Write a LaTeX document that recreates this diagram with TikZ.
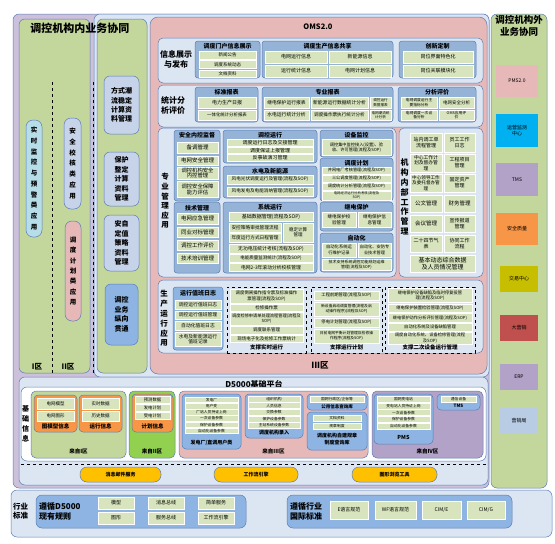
\documentclass[tikz,border=0pt]{standalone}
\usepackage{fontspec}
\setmainfont{Noto Sans CJK SC}
\newcommand\fsz[2]{\fontsize{#1}{#2}\selectfont}
\definecolor{bd}{HTML}{5B7DB5}
\definecolor{lav}{HTML}{CCC0DA}
\definecolor{grn}{HTML}{C3D69B}
\definecolor{lgrn}{HTML}{D7E4BD}
\definecolor{rowbg}{HTML}{DCE6F2}
\definecolor{grpb}{HTML}{95B3D7}
\definecolor{dkb}{HTML}{8DB4E2}
\definecolor{steel}{HTML}{C6D3E8}
\definecolor{cyanl}{HTML}{B7DEE8}
\definecolor{pinkc}{HTML}{E6B9B8}
\definecolor{orng}{HTML}{F79646}
\definecolor{brgrn}{HTML}{92D050}
\definecolor{purp}{HTML}{B3A2C7}
\definecolor{pillc}{HTML}{FFC000}
\definecolor{cyanb}{HTML}{00B0F0}
\definecolor{olive}{HTML}{C8BE00}
\definecolor{redc}{HTML}{C0504D}
\definecolor{lstl}{HTML}{B8CCE4}
% \B[opts]{style}{x1}{y1}{x2}{y2}{name}{text}
\newcommand\B[8][]{\node[#2,anchor=north west,minimum width={(#5-#3)*1pt},minimum height={(#6-#4)*1pt},#1] (#7) at (#3,#4) {#8};}
% \I[font]{x1}{y1}{x2}{y2}{name}{text}
\newcommand\I[7][\fsz{4.5}{5.2}]{\B[font=#1]{it}{#2}{#3}{#4}{#5}{#6}{#7}}
\begin{document}
\begin{tikzpicture}[x=1pt,y=-1pt,
  bs/.style={draw=bd,line width=0.5pt,inner sep=0pt,outer sep=0pt,align=center},
  it/.style={bs,fill=lgrn,draw=white,line width=0.3pt},
  grp/.style={bs,fill=grpb,rounded corners=3pt},
  rowb/.style={bs,fill=rowbg,rounded corners=5pt},
  dsh/.style={draw=black,dashed,line width=0.6pt,fill=rowbg,inner sep=0pt,outer sep=0pt},
  ttl/.style={inner sep=0pt,align=center,font=\bfseries\fsz{6}{7}},
  vt/.style={inner sep=0pt,align=center,font=\bfseries\fsz{7.5}{9.6}},
  sep/.style={dashed,line width=0.8pt,draw=black}]
\useasboundingbox (0,0) rectangle (555,544);

% ---------- backgrounds ----------
\B[fill=lav,rounded corners=6pt]{bs}{13}{14}{489}{488}{purbg}{}
\B[fill=rowbg,rounded corners=6pt]{bs}{94}{14}{489}{377}{bluebg}{}
\B[fill=grn,rounded corners=6pt]{bs}{19}{19}{90}{373}{lgreen}{}
\coordinate (s1a) at (52,82); \coordinate (s1b) at (52,373);
\coordinate (s2a) at (93,82); \coordinate (s2b) at (93,373);
\draw[sep] (s1a) -- (s1b);

% left pills
\B[fill=cyanl,rounded corners=7pt,font=\bfseries\fsz{6.5}{10.7}]{bs}{26}{120}{42}{237}{p1}{实\\时\\监\\控\\与\\预\\警\\类\\应\\用}
\B[fill=steel,rounded corners=7pt,font=\bfseries\fsz{6.5}{10.7}]{bs}{64}{118}{81}{209}{p2}{安\\全\\校\\核\\类\\应\\用}
\B[fill=pinkc,rounded corners=7pt,font=\bfseries\fsz{6.5}{10.4}]{bs}{65}{221}{81}{321}{p3}{调\\度\\计\\划\\类\\应\\用}
\node[font=\bfseries\fsz{7.5}{8}] (z1) at (37,367) {I区};
\node[font=\bfseries\fsz{7.5}{8}] (z2) at (68,367) {II区};

% green column
\B[fill=grn,rounded corners=6pt]{bs}{97}{19}{147}{373}{gcol}{}
\B[fill=steel,rounded corners=6pt,font=\bfseries\fsz{7}{9.3}]{bs}{104}{76}{139}{134}{g1}{方式潮\\流稳定\\计算资\\料管理}
\B[fill=steel,rounded corners=6pt,font=\bfseries\fsz{7}{9.5}]{bs}{104}{152}{139}{206}{g2}{保护\\整定\\计算\\资料\\管理}
\B[fill=steel,rounded corners=6pt,font=\bfseries\fsz{7}{9.5}]{bs}{104}{215}{139}{271}{g3}{安自\\定值\\策略\\资料\\管理}
\B[fill=dkb,rounded corners=6pt,font=\bfseries\fsz{7}{9.5}]{bs}{105}{284}{138}{345}{g4}{调控\\业务\\纵向\\贯通}
\draw[sep] (s2a) -- (s2b);

% ---------- OMS2.0 ----------
\B[fill=pinkc,rounded corners=8pt]{bs}{150}{17}{487}{374}{oms}{}
\node[ttl,font=\bfseries\fsz{7.5}{8}] (omst) at (318,27) {OMS2.0};

% row 1
\B{rowb}{158}{38}{483}{83}{r1}{}
\node[vt,font=\bfseries\fsz{8}{10}] (r1t) at (176,59) {信息展示\\与发布};
\B{grp}{195}{41}{260}{78}{g11}{}
\node[ttl] (g11t) at (227.5,45.8) {调度门户信息展示};
\I{199}{51}{256}{59}{i111}{新闻公告}
\I{199}{60.5}{256}{68.5}{i112}{调度系统动态}
\I{199}{70}{256}{77}{i113}{文档资料}
\B{grp}{262}{41}{393}{78}{g12}{}
\node[ttl] (g12t) at (327.5,45.8) {调度生产信息共享};
\I[\fsz{5}{6}]{265}{51}{327}{63}{i121}{电网运行信息}
\I[\fsz{5}{6}]{329}{51}{391}{63}{i122}{新能源信息}
\I[\fsz{5}{6}]{265}{65}{327}{77}{i123}{运行统计信息}
\I[\fsz{5}{6}]{329}{65}{391}{77}{i124}{电网计划信息}
\B{grp}{399}{41}{476}{78}{g13}{}
\node[ttl] (g13t) at (437.5,45.8) {创新定制};
\I[\fsz{5}{6}]{403}{51}{473}{63}{i131}{岗位界面特色化}
\I[\fsz{5}{6}]{403}{65}{473}{77}{i132}{岗位关联模块化}

% row 2
\B{rowb}{158}{85}{483}{127}{r2}{}
\node[vt,font=\bfseries\fsz{8}{10}] (r2t) at (173,105) {统计分\\析评价};
\B{grp}{195}{87}{258}{122}{g21}{}
\node[ttl] (g21t) at (226.5,92) {标准报表};
\I[\fsz{5}{6}]{198}{97}{256}{108}{i211}{电力生产日报}
\I[\fsz{4.4}{5}]{198}{110}{256}{120}{i212}{一体化统计分析报表}
\B{grp}{262}{87}{393}{122}{g22}{}
\node[ttl] (g22t) at (327.5,92) {专业报表};
\I[\fsz{4.8}{5.5}]{264}{97}{309}{108}{i221}{继电保护运行报表}
\I[\fsz{4.8}{5.5}]{311}{97}{368}{108}{i222}{新能源运行数据统计分析}
\I[\fsz{3.6}{4.4}]{370}{97}{391}{108}{i223}{调控运行\\数据报表}
\I[\fsz{4.8}{5.5}]{264}{110}{309}{120}{i224}{水电运行统计分析}
\I[\fsz{4.6}{5.5}]{311}{110}{368}{120}{i225}{调度操作票执行统计分析}
\I[\fsz{3.6}{4.4}]{370}{110}{391}{120}{i226}{电网潮流统\\计分析}
\B{grp}{398}{87}{476}{122}{g23}{}
\node[ttl] (g23t) at (437,92) {分析评价};
\I[\fsz{3.8}{4.5}]{401}{97}{437}{108}{i231}{电网调度运行主\\要指标分析}
\I[\fsz{4.5}{5}]{439}{97}{474}{108}{i232}{电网安全分析}
\I[\fsz{3.8}{4.5}]{401}{110}{437}{120}{i233}{电网调度一次设\\备分析}
\I[\fsz{3.8}{4.5}]{439}{110}{474}{120}{i234}{OMS应用评\\价}

% row 3
\B{rowb}{158}{128}{396}{277}{r3}{}
\node[vt] (r3t) at (165,201) {专\\业\\管\\理\\应\\用};
\B{grp}{174}{130}{220}{201}{g31}{}
\node[ttl] (g31t) at (197,135.5) {安全内控监督};
\I[\fsz{5.5}{6}]{177}{142}{218}{153}{i311}{备调管理}
\I[\fsz{5.5}{6}]{177}{156}{218}{165}{i312}{电网安全管理}
\I[\fsz{5.3}{5.8}]{177}{167}{218}{179}{i313}{调控机构安全\\内控管理}
\I[\fsz{5.3}{6}]{177}{181}{218}{197}{i314}{调控安全保障\\能力评估}
\B{grp}{223}{130}{317}{163}{g32}{}
\node[ttl] (g32t) at (270,135) {调控运行};
\I[\fsz{5}{5.5}]{227}{139.5}{313}{146}{i321}{调度运行日志及交接管理}
\I[\fsz{5}{5.5}]{227}{147}{313}{153.5}{i322}{调度保证上报管理}
\I[\fsz{5}{5.5}]{227}{154.5}{313}{161}{i323}{反事故演习管理}
\B{grp}{223}{166}{317}{198}{g33}{}
\node[ttl] (g33t) at (270,171) {水电及新能源};
\I[\fsz{4.6}{5.2}]{227}{175}{313}{184}{i331}{风电光伏调度运行及管理(流程及SOP)}
\I[\fsz{4.6}{5.2}]{227}{187}{313}{196}{i332}{风电发电及电能消纳管理(流程及SOP)}
\B{grp}{174}{202}{220}{273}{g34}{}
\node[ttl] (g34t) at (197,208) {技术管理};
\I[\fsz{5.5}{6}]{177}{213}{218}{224}{i341}{电网应急管理}
\I[\fsz{5.5}{6}]{177}{227}{218}{237}{i342}{同业对标管理}
\I[\fsz{5.5}{6}]{177}{240}{218}{250}{i343}{调控工作评价}
\I[\fsz{5.5}{6}]{177}{253}{218}{263}{i344}{技术培训管理}
\B{grp}{223}{202}{317}{273}{g35}{}
\node[ttl] (g35t) at (270,207.5) {系统运行};
\I[\fsz{5}{5.5}]{229}{212}{313}{221.5}{i351}{基础数据管理(流程及SOP)}
\I[\fsz{4.7}{5.2}]{229}{223}{281}{232}{i352}{安控策略审批管理流程}
\I[\fsz{4.7}{5.2}]{229}{233.5}{281}{242}{i353}{年度运行方式日程管理}
\I[\fsz{4.5}{5.5}]{283}{223}{313}{242}{i354}{稳定计算\\管理}
\I[\fsz{4.8}{5.3}]{229}{244}{313}{253}{i355}{无功电压统计考核(流程及SOP)}
\I[\fsz{4.5}{5}]{229}{254.5}{313}{262}{i356}{电能质量监测统计(流程及SOP)}
\I[\fsz{4.8}{5.3}]{229}{263.5}{313}{271.5}{i357}{电网2-3年滚动分析校核管理}
\B{grp}{320}{130}{393}{157}{g36}{}
\node[ttl] (g36t) at (356.5,135) {设备监控};
\I[\fsz{4.2}{5.2}]{322}{139.5}{391}{155}{i361}{调控集中监控接入(设置)、验\\收、许可管理(流程及SOP)}
\B{grp}{320}{158}{393}{201}{g37}{}
\node[ttl] (g37t) at (356.5,163) {调度计划};
\I[\fsz{4.2}{4.8}]{322}{167}{391}{174}{i371}{并网电厂考核管理(流程及SOP)}
\I[\fsz{4.2}{4.8}]{322}{175}{391}{182}{i372}{三公调度管理(流程及SOP)}
\I[\fsz{4.2}{4.8}]{322}{183}{391}{190}{i373}{调度统计分析管理(流程及SOP)}
\I[\fsz{3.4}{4}]{322}{191}{391}{200}{i374}{电网经济运行分析考核(流程及\\SOP)}
\B{grp}{320}{202}{393}{231}{g38}{}
\node[ttl] (g38t) at (356.5,207) {继电保护};
\I[\fsz{4.6}{5.6}]{322}{212}{356}{227}{i381}{继电保护校\\验管理}
\I[\fsz{4.6}{5.6}]{358}{212}{391}{227}{i382}{继电保护信\\息管理}
\B{grp}{320}{233}{393}{272}{g39}{}
\node[ttl] (g39t) at (356.5,238.5) {自动化};
\I[\fsz{4.3}{5.3}]{322}{243}{356}{257}{i391}{自动化系统运\\行维护记录}
\I[\fsz{4.2}{5.3}]{358}{243}{391}{257}{i392}{自动化、安防专\\业技术管理}
\I[\fsz{4}{4.7}]{322}{259}{391}{270.5}{i393}{技术支持系统调控功能规划运维\\管理(流程及SOP)}

\B{rowb}{399}{128}{483}{277}{r3b}{}
\node[vt,font=\bfseries\fsz{8}{9.8}] (r3bt) at (404.5,197) {机\\构\\内\\部\\工\\作\\管\\理};
\I[\fsz{5}{6}]{410}{133}{442}{152}{k11}{站内调工单\\流程管理}
\I[\fsz{5}{6}]{444}{133}{475}{152}{k12}{员工工作\\日志}
\I[\fsz{4.8}{5.6}]{410}{154}{442}{172}{k21}{中心工作计\\划及督办管\\理}
\I[\fsz{5}{6}]{444}{154}{475}{172}{k22}{工程项目\\管理}
\I[\fsz{4.6}{5.6}]{410}{174}{442}{192}{k31}{中心领导工作\\及委托督办管\\理}
\I[\fsz{5}{6}]{444}{174}{475}{192}{k32}{固定资产\\管理}
\I[\fsz{5.5}{6}]{410}{195}{442}{212}{k41}{公文管理}
\I[\fsz{5.5}{6}]{444}{195}{475}{212}{k42}{财务管理}
\I[\fsz{5.5}{6}]{410}{215}{442}{232}{k51}{会议管理}
\I[\fsz{5}{6}]{444}{215}{475}{232}{k52}{宣传报道\\管理}
\I[\fsz{5}{6}]{410}{235}{442}{252}{k61}{二十四节气\\表}
\I[\fsz{5}{6}]{444}{235}{475}{252}{k62}{协同工作\\流程}
\I[\fsz{6}{7}]{410}{255}{475}{272}{k71}{基本动态综合数据\\及人员情况管理}

% row 4
\B{rowb}{158}{280}{483}{353}{r4}{}
\node[vt,font=\bfseries\fsz{7.5}{9.8}] (r4t) at (164,318.5) {生\\产\\运\\行\\应\\用};
\B[fill=dkb]{grp}{173}{287}{223}{350}{g41}{}
\node[ttl] (g41t) at (198,293) {运行值班日志};
\I[\fsz{4.8}{5.5}]{175}{300}{221}{309}{i411}{调控运行值班日志}
\I[\fsz{4.8}{5.5}]{175}{311}{221}{319}{i412}{调控运行值班管理}
\I[\fsz{4.8}{5.5}]{175}{321}{221}{330}{i413}{自动化值班日志}
\I[\fsz{4.8}{5.6}]{175}{332}{221}{346}{i414}{水电及新能源运行\\值班记录}
\B{dsh}{227}{287}{306}{353}{d1}{}
\I[\fsz{4.4}{5.3}]{230}{289}{303}{303}{i421}{调度倒闸操作指令票及标准操作\\票管理(流程及SOP)}
\I[\fsz{4.5}{5}]{230}{304.5}{303}{311}{i422}{检修操作票}
\I[\fsz{4.2}{5.2}]{230}{312.5}{303}{325}{i423}{调度检修申请单处理流程管理(流程及\\SOP)}
\I[\fsz{4.5}{5}]{230}{326.5}{303}{334}{i424}{调度联系管理}
\I[\fsz{4.5}{5}]{230}{335.5}{303}{342.5}{i425}{现场电子化及抢修工作票统计}
\node[ttl,font=\bfseries\fsz{5.5}{6}] (d1t) at (266.5,347.8) {支撑实时运行};
\B{dsh}{311}{287}{382}{353}{d2}{}
\I[\fsz{4.3}{5}]{314}{291}{379}{300}{i431}{工程前期管理(流程及SOP)}
\I[\fsz{3.8}{5}]{314}{302}{379}{316}{i432}{新设备启动调度管理(流程及启\\动操作程序)(流程及SOP)}
\I[\fsz{4.3}{5}]{314}{318}{379}{327}{i433}{停电计划管理(流程及SOP)}
\I[\fsz{3.8}{5}]{314}{329}{379}{343}{i434}{日前电网平衡计划管理及检修操\\作程序(流程及SOP)}
\node[ttl,font=\bfseries\fsz{5.5}{6}] (d2t) at (346.5,347.8) {支撑运行计划};
\B{dsh}{385}{287}{475}{353}{d3}{}
\I[\fsz{4.3}{5.2}]{388}{288.5}{472}{302}{i441}{继电保护设备缺陷及临时停复役管\\理(流程及SOP)}
\I[\fsz{4.3}{5}]{388}{304}{472}{312.5}{i442}{继电保护装置检验管理(流程及SOP)}
\I[\fsz{4.2}{5}]{388}{313.5}{472}{322}{i443}{继电保护动作分析评价管理(流程及SOP)}
\I[\fsz{4.3}{5}]{388}{323}{472}{331}{i444}{自动化系统及设备缺陷管理}
\I[\fsz{4.3}{5.2}]{388}{332}{472}{344}{i445}{调度自动化系统、设备检修管理(流程\\及SOP)}
\node[ttl,font=\bfseries\fsz{5.5}{6}] (d3t) at (430,347.8) {支撑二次设备运行管理};
\node[font=\bfseries\fsz{8.5}{9}] (z3) at (320,365) {III区};

% ---------- D5000 ----------
\B[fill=rowbg,rounded corners=6pt]{bs}{19}{377}{488}{485}{d5k}{}
\node[font=\bfseries\fsz{8}{9}] (d5kt) at (254,384) {D5000基础平台};
\B[fill=white,rounded corners=6pt]{bs}{21}{387}{486}{461}{jc}{}
\node[vt,font=\bfseries\fsz{7}{10}] (jct) at (25.5,424) {基\\础\\信\\息};
\B[fill=grn,rounded corners=5pt]{bs}{31}{391}{126}{458}{fi1}{}
\node[ttl,font=\bfseries\fsz{5.5}{6}] (fi1t) at (78.5,451) {来自I区};
\B[fill=orng,rounded corners=4pt]{bs}{34}{395}{77}{432}{tm}{}
\I{37}{398}{74}{409}{i511}{电网模型}
\I{37}{411}{74}{421}{i512}{电网图形}
\node[ttl,font=\bfseries\fsz{5.5}{6}] (tmt) at (55.5,426.5) {图模型信息};
\B[fill=orng,rounded corners=4pt]{bs}{79}{395}{122}{432}{yx}{}
\I{82}{398}{119}{409}{i521}{实时数据}
\I{82}{411}{119}{421}{i522}{历史数据}
\node[ttl,font=\bfseries\fsz{5.5}{6}] (yxt) at (100.5,426.5) {运行信息};
\B[fill=brgrn,rounded corners=5pt]{bs}{129}{391}{175}{458}{fi2}{}
\node[ttl,font=\bfseries\fsz{5.5}{6}] (fi2t) at (152,451) {来自II区};
\B[fill=orng,rounded corners=4pt]{bs}{132}{394}{173}{432}{jh}{}
\I[\fsz{4.3}{5}]{135}{396}{170}{403}{i531}{预测数据}
\I[\fsz{4.3}{5}]{135}{404}{170}{411}{i532}{发电计划}
\I[\fsz{4.3}{5}]{135}{412}{170}{419}{i533}{受电计划}
\node[ttl,font=\bfseries\fsz{5.5}{6}] (jht) at (152.5,426.5) {计划信息};
\B[fill=pinkc,rounded corners=5pt]{bs}{179}{391}{368}{458}{fi3}{}
\node[ttl,font=\bfseries\fsz{5.5}{6}] (fi3t) at (273.5,451) {来自III区};
\B[fill=dkb,rounded corners=4pt]{bs}{182}{394}{241}{449}{fd}{}
\I[\fsz{3.8}{4.3}]{185}{397}{238}{402.6}{i541}{发电厂}
\I[\fsz{3.8}{4.3}]{185}{403.2}{238}{408.8}{i542}{用户变}
\I[\fsz{3.8}{4.3}]{185}{409.4}{238}{415}{i543}{厂站人员持证上岗}
\I[\fsz{3.8}{4.3}]{185}{415.6}{238}{421.2}{i544}{一次设备参数}
\I[\fsz{3.8}{4.3}]{185}{421.8}{238}{427.4}{i545}{保护设备参数}
\I[\fsz{3.8}{4.3}]{185}{428}{238}{433.6}{i546}{自动化设备参数}
\node[ttl,font=\bfseries\fsz{5}{6}] (fdt) at (211.5,442.5) {发电厂/直调用户类};
\B[fill=dkb,rounded corners=4pt]{bs}{245}{394}{303}{438}{dj}{}
\I[\fsz{3.8}{4.3}]{248}{396}{300}{402}{i551}{组织机构}
\I[\fsz{3.8}{4.3}]{248}{402.6}{300}{408.6}{i552}{人员信息}
\I[\fsz{3.8}{4.3}]{248}{409.2}{300}{415.2}{i553}{交换参数}
\I[\fsz{3.8}{4.3}]{248}{415.8}{300}{421.8}{i554}{保护设备参数}
\I[\fsz{3.8}{4.3}]{248}{422.4}{300}{428.4}{i555}{主站系统设备参数}
\node[ttl,font=\bfseries\fsz{5}{6}] (djt) at (274,433) {调度机构录入};
\B[fill=dkb,rounded corners=4pt]{bs}{307}{394}{367}{410}{gy}{}
\I[\fsz{3.8}{4.3}]{310}{396}{364}{402.5}{i561}{国网行政区/企标等}
\node[ttl,font=\bfseries\fsz{4.5}{5}] (gyt) at (337,406.3) {公用信息查询库};
\B[fill=dkb,rounded corners=4pt]{bs}{307}{412}{367}{450}{zj}{}
\I[\fsz{3.8}{4.3}]{313}{415}{361}{421}{i571}{文档资料}
\I[\fsz{3.8}{4.3}]{313}{423}{361}{429}{i572}{规章制度}
\node[ttl,font=\bfseries\fsz{5}{7.5}] (zjt) at (337,439) {调度机构自建规章\\制度查询库};
\B[fill=purp,rounded corners=5pt]{bs}{372}{391}{483}{458}{fi4}{}
\node[ttl,font=\bfseries\fsz{5.5}{6}] (fi4t) at (427.5,451) {来自IV区};
\B[fill=dkb,rounded corners=4pt]{bs}{374}{394}{433}{444}{pms}{}
\I[\fsz{3.8}{4.3}]{377}{396}{430}{402}{i581}{国网变电站}
\I[\fsz{3.8}{4.3}]{377}{402.8}{430}{408.8}{i582}{变电站人员持证上岗}
\I[\fsz{3.8}{4.3}]{377}{409.6}{430}{415.6}{i583}{一次设备参数}
\I[\fsz{3.8}{4.3}]{377}{416.4}{430}{422.4}{i584}{保护设备参数}
\I[\fsz{3.8}{4.3}]{377}{423.2}{430}{429.2}{i585}{自动化设备参数}
\node[ttl,font=\bfseries\fsz{5.5}{6}] (pmst) at (403.5,437.5) {PMS};
\B[fill=dkb,rounded corners=4pt]{bs}{437}{394}{480}{410}{tms}{}
\I[\fsz{3.8}{4.3}]{441}{396}{476}{402.5}{i591}{通信设备}
\node[ttl,font=\bfseries\fsz{4.5}{5}] (tmst) at (458.5,406.3) {TMS};
\coordinate (dl1) at (21,464.5); \coordinate (dl2) at (486,464.5);
\draw[sep] (dl1) -- (dl2);
\B[fill=pillc,rounded corners=7pt,font=\bfseries\fsz{5}{6}]{bs}{80}{467}{161}{482}{q1}{消息邮件服务}
\B[fill=pillc,rounded corners=7pt,font=\bfseries\fsz{5}{6}]{bs}{214}{467}{298}{482}{q2}{工作流引擎}
\B[fill=pillc,rounded corners=7pt,font=\bfseries\fsz{5}{6}]{bs}{352}{467}{437}{482}{q3}{图形浏览工具}

% ---------- right column ----------
\B[fill=grn,rounded corners=6pt]{bs}{491}{14}{547}{488}{rc}{}
\node[font=\bfseries\fsz{9.5}{11.5},align=center,inner sep=0pt] (rct) at (519,26) {调控机构外\\业务协同};
\B[fill=pinkc,draw=none,font=\fsz{5}{6}]{bs}{496}{65}{538}{97}{e1}{PMS2.0}
\B[fill=cyanb,draw=none,font=\fsz{5}{6}]{bs}{496}{114}{538}{147}{e2}{运营监测\\中心}
\B[fill=purp,draw=none,font=\fsz{5}{6}]{bs}{496}{163}{538}{196}{e3}{TMS}
\B[fill=orng,draw=none,font=\fsz{5}{6}]{bs}{496}{213}{538}{245}{e4}{安全质量}
\B[fill=olive,draw=none,font=\fsz{5}{6}]{bs}{500}{266}{538}{292}{e5}{交易中心}
\B[fill=redc,draw=none,font=\fsz{5}{6}]{bs}{500}{315}{538}{341}{e6}{大营销}
\B[fill=purp,draw=none,font=\fsz{5}{6}]{bs}{500}{364}{538}{390}{e7}{ERP}
\B[fill=lstl,draw=none,font=\fsz{5}{6}]{bs}{500}{408}{538}{434}{e8}{营销局}

% ---------- bottom ----------
\B[fill=rowbg,rounded corners=6pt]{bs}{11}{490}{552}{537}{hy}{}
\node[vt,font=\bfseries\fsz{7.5}{9.5}] (hyt) at (20.5,511) {行业\\标准};
\B[fill=dkb,rounded corners=6pt]{bs}{36}{495}{246}{528}{zx1}{}
\node[inner sep=0pt,align=left,anchor=west,font=\bfseries\fsz{8}{10}] (zx1t) at (39,511.5) {遵循D5000\\现有规则};
\I[\fsz{5}{6}]{98}{497}{134}{509}{i611}{模型}
\I[\fsz{5}{6}]{98}{512}{134}{524}{i612}{图形}
\I[\fsz{5}{6}]{148}{497}{184}{509}{i613}{消息总线}
\I[\fsz{5}{6}]{148}{512}{184}{524}{i614}{服务总线}
\I[\fsz{5}{6}]{198}{497}{234}{509}{i615}{简单服务}
\I[\fsz{5}{6}]{198}{512}{234}{524}{i616}{工作流引擎}
\B[fill=dkb,rounded corners=6pt]{bs}{287}{495}{512}{528}{zx2}{}
\node[inner sep=0pt,align=left,anchor=west,font=\bfseries\fsz{8}{10}] (zx2t) at (290,511.5) {遵循行业\\国际标准};
\I[\fsz{5}{6}]{330}{501}{368}{519}{i621}{E语言规范}
\I[\fsz{5}{6}]{375}{501}{416}{519}{i622}{WF语言规范}
\I[\fsz{5}{6}]{422}{501}{461}{519}{i623}{CIM/E}
\I[\fsz{5}{6}]{467}{501}{505}{519}{i624}{CIM/G}

% left title on top
\node[font=\bfseries\fsz{11}{12},inner sep=0pt] (lt) at (80,28) {调控机构内业务协同};
\end{tikzpicture}
\end{document}
